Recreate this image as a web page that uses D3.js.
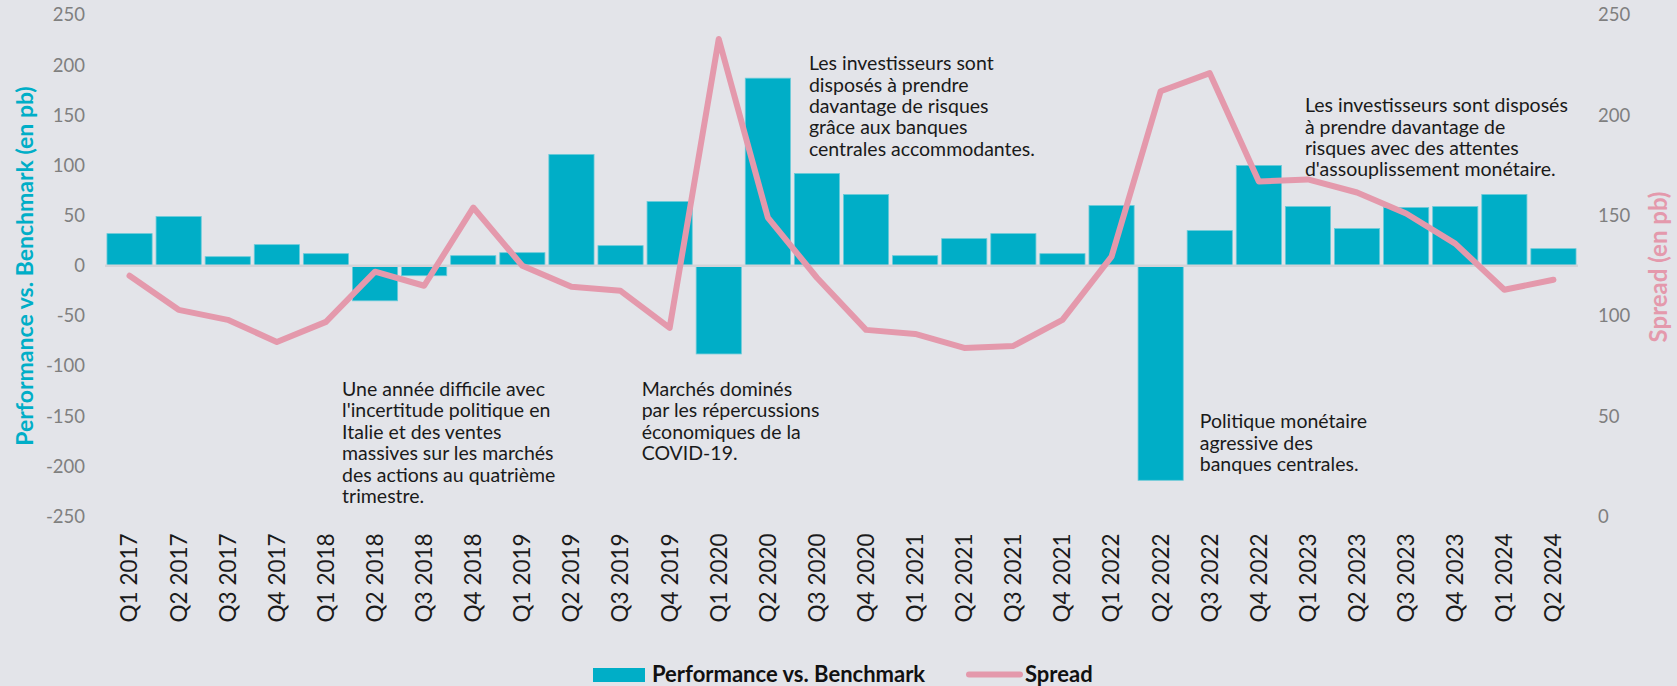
<!DOCTYPE html>
<html>
<head>
<meta charset="utf-8">
<script src="https://cdnjs.cloudflare.com/ajax/libs/d3/7.8.5/d3.min.js"></script>
<style>
  body { margin: 0; background: #e3e4e9; }
  svg { display: block; font-family: Lato, "Open Sans", sans-serif; }
</style>
</head>
<body>
<div id="chart"></div>
<script>
var svgWidth = 1677;
var svgHeight = 686;

// data
var quarters = ["Q1 2017", "Q2 2017", "Q3 2017", "Q4 2017", "Q1 2018", "Q2 2018", "Q3 2018", "Q4 2018",
  "Q1 2019", "Q2 2019", "Q3 2019", "Q4 2019", "Q1 2020", "Q2 2020", "Q3 2020", "Q4 2020",
  "Q1 2021", "Q2 2021", "Q3 2021", "Q4 2021", "Q1 2022", "Q2 2022", "Q3 2022", "Q4 2022",
  "Q1 2023", "Q2 2023", "Q3 2023", "Q4 2023", "Q1 2024", "Q2 2024"];

var performance = [32, 49, 9, 21, 12, -35, -10, 10, 13, 111, 20, 64, -88, 187, 92, 71,
  10, 27, 32, 12, 60, -214, 35, 100, 59, 37, 58, 59, 71, 17];

var spread = [120, 103, 98, 87, 97, 122, 115, 154, 125, 114.5, 112.5, 94, 238, 149, 119, 93,
  91, 84, 85, 98, 129.5, 212, 221, 167, 168, 161.5, 151, 136, 113, 118];

var leftTicks = [-250, -200, -150, -100, -50, 0, 50, 100, 150, 200, 250];
var rightTicks = [0, 50, 100, 150, 200, 250];

// annotation text, anchored on a quarter and a left-axis value
var notes = [
  { q: "Q2 2018", v: -130, lines: ["Une année difficile avec", "l'incertitude politique en", "Italie et des ventes", "massives sur les marchés", "des actions au quatrième", "trimestre."] },
  { q: "Q4 2019", v: -130, lines: ["Marchés dominés", "par les répercussions", "économiques de la", "COVID-19."] },
  { q: "Q3 2020", v: 195, lines: ["Les investisseurs sont", "disposés à prendre", "davantage de risques", "grâce aux banques", "centrales accommodantes."] },
  { q: "Q3 2022", v: -162, lines: ["Politique monétaire", "agressive des", "banques centrales."] },
  { q: "Q1 2023", v: 153, lines: ["Les investisseurs sont disposés", "à prendre davantage de", "risques avec des attentes", "d'assouplissement monétaire."] }
];
// horizontal nudge of each note from its band centre (px)
var noteShift = [-33, -28, -8, -10, -3];

var blue = "#00aec7";
var pink = "#e499ac";

var plot = { left: 105, right: 1578, top: 15, bottom: 516.4 };

var svg = d3.select("#chart")
  .append("svg")
  .attr("width", svgWidth)
  .attr("height", svgHeight);

svg.append("rect")
  .attr("width", svgWidth)
  .attr("height", svgHeight)
  .attr("fill", "#e3e4e9");

var x = d3.scaleBand()
  .domain(quarters)
  .range([plot.left, plot.right])
  .paddingInner(0.08)
  .paddingOuter(0.04);

var yLeft = d3.scaleLinear()
  .domain([-250, 250])
  .range([plot.bottom, plot.top]);

var yRight = d3.scaleLinear()
  .domain([0, 250])
  .range([plot.bottom, plot.top]);

// bars
svg.append("g")
  .selectAll("rect")
  .data(performance)
  .enter()
  .append("rect")
  .attr("x", (d, i) => x(quarters[i]))
  .attr("width", x.bandwidth())
  .attr("y", d => yLeft(Math.max(0, d)))
  .attr("height", d => Math.abs(yLeft(d) - yLeft(0)))
  .attr("fill", blue)
  .attr("stroke", "#6ccbd9")
  .attr("stroke-width", 0.8);

// zero line
svg.append("line")
  .attr("x1", plot.left)
  .attr("x2", plot.right)
  .attr("y1", yLeft(0))
  .attr("y2", yLeft(0))
  .attr("stroke", "#d2d3d8")
  .attr("stroke-width", 2.5);

// spread line
var line = d3.line()
  .x((d, i) => x(quarters[i]) + x.bandwidth() / 2)
  .y(d => yRight(d));

svg.append("path")
  .datum(spread)
  .attr("d", line)
  .attr("fill", "none")
  .attr("stroke", pink)
  .attr("stroke-width", 6)
  .attr("stroke-linejoin", "round")
  .attr("stroke-linecap", "round");

// axes
var leftAxis = svg.append("g")
  .attr("transform", "translate(" + (plot.left - 15) + ",0)")
  .call(d3.axisLeft(yLeft).tickValues(leftTicks).tickFormat(d => String(d)).tickSize(0).tickPadding(5));

var rightAxis = svg.append("g")
  .attr("transform", "translate(" + (plot.right + 15) + ",0)")
  .call(d3.axisRight(yRight).tickValues(rightTicks).tickFormat(d => String(d)).tickSize(0).tickPadding(5));

[leftAxis, rightAxis].forEach(function(a) {
  a.select(".domain").remove();
  a.selectAll("text")
    .attr("font-family", "Lato, sans-serif")
    .attr("font-size", 18.5)
    .attr("fill", "#7f7f7f");
});

var bottomAxis = svg.append("g")
  .attr("transform", "translate(0," + (plot.bottom + 11) + ")")
  .call(d3.axisBottom(x).tickSize(0));

bottomAxis.select(".domain").remove();
bottomAxis.selectAll("text")
  .attr("font-family", "Lato, sans-serif")
  .attr("font-size", 22.5)
  .attr("fill", "#1a1a1a")
  .attr("transform", "rotate(-90)")
  .attr("text-anchor", "end")
  .attr("x", -6)
  .attr("y", 0)
  .attr("dy", "0.35em");

// axis titles
svg.append("text")
  .attr("transform", "translate(33,266) rotate(-90)")
  .attr("text-anchor", "middle")
  .attr("font-size", 23)
  .attr("font-weight", "bold")
  .attr("fill", blue)
  .text("Performance vs. Benchmark (en pb)");

svg.append("text")
  .attr("transform", "translate(1667,267) rotate(-90)")
  .attr("text-anchor", "middle")
  .attr("font-size", 24)
  .attr("font-weight", "bold")
  .attr("fill", pink)
  .text("Spread (en pb)");

// annotations
notes.forEach(function(n, k) {
  var nx = x(n.q) + x.bandwidth() / 2 + noteShift[k];
  var t = svg.append("text")
    .attr("x", nx)
    .attr("y", yLeft(n.v))
    .attr("font-size", 19.5)
    .attr("fill", "#1a1a1a");
  n.lines.forEach(function(l, i) {
    t.append("tspan")
      .attr("x", nx)
      .attr("dy", i == 0 ? 0 : 21.4)
      .text(l);
  });
});

// legend
var legend = svg.append("g");
legend.append("rect")
  .attr("x", 593)
  .attr("y", 668)
  .attr("width", 52)
  .attr("height", 14)
  .attr("fill", blue);
legend.append("text")
  .attr("x", 652)
  .attr("y", 682)
  .attr("font-size", 22)
  .attr("font-weight", "bold")
  .attr("fill", "#111")
  .text("Performance vs. Benchmark");
legend.append("line")
  .attr("x1", 969)
  .attr("x2", 1020)
  .attr("y1", 674.5)
  .attr("y2", 674.5)
  .attr("stroke", pink)
  .attr("stroke-width", 6)
  .attr("stroke-linecap", "round");
legend.append("text")
  .attr("x", 1025)
  .attr("y", 682)
  .attr("font-size", 22)
  .attr("font-weight", "bold")
  .attr("fill", "#111")
  .text("Spread");
</script>
</body>
</html>
